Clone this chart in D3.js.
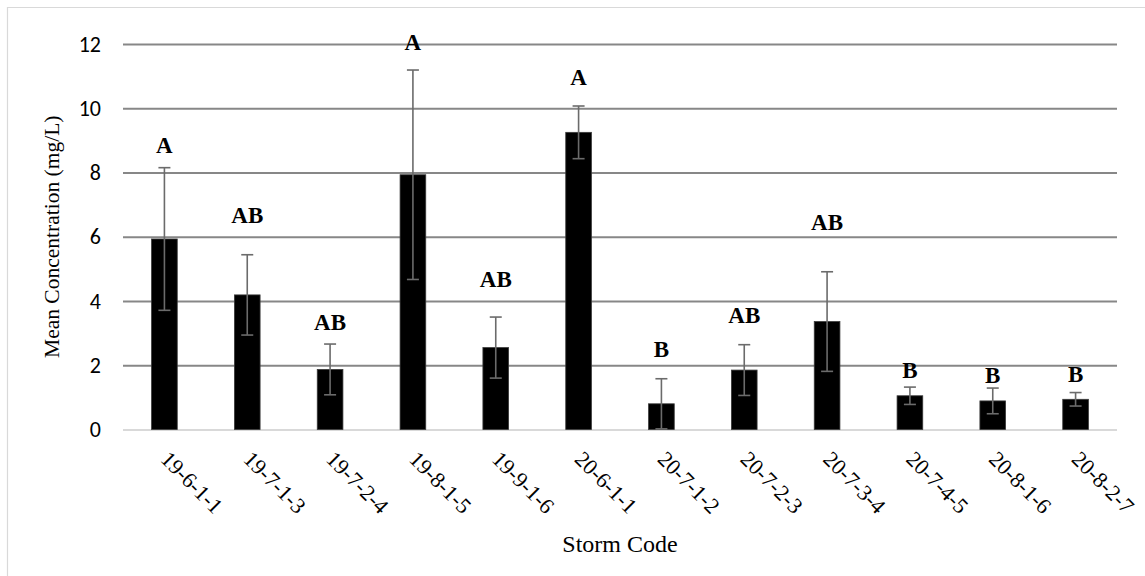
<!DOCTYPE html>
<html>
<head>
<meta charset="utf-8">
<script src="https://cdn.jsdelivr.net/npm/d3@7"></script>
<style>
  html, body { margin: 0; padding: 0; background: #fff; }
  svg { display: block; }
</style>
</head>
<body>
<svg id="chart" width="1145" height="576"></svg>
<script>
// Storm events and their mean concentrations (mg/L)
const stormCodes = ["19-6-1-1", "19-7-1-3", "19-7-2-4", "19-8-1-5", "19-9-1-6", "20-6-1-1",
                    "20-7-1-2", "20-7-2-3", "20-7-3-4", "20-7-4-5", "20-8-1-6", "20-8-2-7"];
const meanConc = [5.93, 4.19, 1.87, 7.93, 2.55, 9.25, 0.80, 1.85, 3.36, 1.05, 0.89, 0.94];
const errConc  = [2.22, 1.25, 0.79, 3.26, 0.95, 0.82, 0.78, 0.79, 1.55, 0.27, 0.40, 0.21];
// Significance groupings and the height (in mg/L) at which each letter sits
const groupLetters = ["A", "AB", "AB", "A", "AB", "A", "B", "AB", "AB", "B", "B", "B"];
const letterLevel  = [8.61, 6.44, 3.10, 11.80, 4.45, 10.71, 2.27, 3.33, 6.21, 1.61, 1.44, 1.49];
const yTicks = [0, 2, 4, 6, 8, 10, 12];

const svg = d3.select("#chart");
const serif = "'Times New Roman', 'Liberation Serif', serif";
const sans = "Calibri, Carlito, 'Open Sans', sans-serif";

const plot = { left: 123, right: 1117, top: 44, bottom: 429.5 };

const x = d3.scaleBand()
  .domain(stormCodes)
  .range([plot.left, plot.right])
  .paddingInner(0.69)
  .paddingOuter(0.345);

const y = d3.scaleLinear()
  .domain([0, 12])
  .range([plot.bottom, plot.top]);

// Chart frame
svg.append("line").attr("x1", 7).attr("x2", 1145).attr("y1", 7.5).attr("y2", 7.5)
  .attr("stroke", "#d9d9d9").attr("stroke-width", 1.2);
svg.append("line").attr("x1", 7.5).attr("x2", 7.5).attr("y1", 7).attr("y2", 576)
  .attr("stroke", "#d9d9d9").attr("stroke-width", 1.2);

// Horizontal gridlines
const yAxis = d3.axisLeft(y).tickValues(yTicks).tickSize(-(plot.right - plot.left)).tickPadding(22);
const gy = svg.append("g").attr("transform", `translate(${plot.left},0)`).call(yAxis);
gy.select(".domain").remove();
gy.selectAll(".tick line")
  .attr("stroke", d => d === 0 ? "#d9d9d9" : "#878787")
  .attr("stroke-width", 2);
gy.selectAll(".tick text")
  .attr("font-family", sans)
  .attr("font-size", 22)
  .attr("fill", "#000");

// Bars
svg.append("g").selectAll("rect")
  .data(stormCodes)
  .join("rect")
  .attr("x", d => x(d))
  .attr("width", x.bandwidth())
  .attr("y", (d, i) => y(meanConc[i]))
  .attr("height", (d, i) => y(0) - y(meanConc[i]))
  .attr("fill", "#000")
  .attr("stroke", "#3a3a3a")
  .attr("stroke-width", 0.8);

// Error bars
const eb = svg.append("g").attr("stroke", "#6b6b6b").attr("stroke-width", 1.6).attr("fill", "none");
stormCodes.forEach((d, i) => {
  const cx = x(d) + x.bandwidth() / 2;
  const hi = y(meanConc[i] + errConc[i]);
  const lo = y(Math.max(0, meanConc[i] - errConc[i]));
  eb.append("line").attr("x1", cx).attr("x2", cx).attr("y1", hi).attr("y2", lo);
  eb.append("line").attr("x1", cx - 6).attr("x2", cx + 6).attr("y1", hi).attr("y2", hi);
  eb.append("line").attr("x1", cx - 6).attr("x2", cx + 6).attr("y1", lo).attr("y2", lo);
});

// Group letters
svg.append("g").selectAll("text")
  .data(stormCodes)
  .join("text")
  .attr("x", d => x(d) + x.bandwidth() / 2)
  .attr("y", (d, i) => y(letterLevel[i]))
  .attr("text-anchor", "middle")
  .attr("font-family", serif)
  .attr("font-weight", "bold")
  .attr("font-size", 23)
  .text((d, i) => groupLetters[i]);

// Category labels, rotated
const xAxis = d3.axisBottom(x).tickSize(0).tickPadding(0);
const gx = svg.append("g").attr("transform", `translate(0,${plot.bottom})`).call(xAxis);
gx.select(".domain").remove();
gx.selectAll(".tick text")
  .attr("font-family", serif)
  .attr("font-size", 22)
  .attr("fill", "#000")
  .attr("text-anchor", "start")
  .attr("dy", null)
  .attr("y", 0)
  .attr("transform", "translate(-5,31) rotate(45)");

// Axis titles
svg.append("text")
  .attr("x", (plot.left + plot.right) / 2)
  .attr("y", 552)
  .attr("text-anchor", "middle")
  .attr("font-family", serif)
  .attr("font-size", 24)
  .text("Storm Code");

svg.append("text")
  .attr("transform", `translate(59,${(plot.top + plot.bottom) / 2}) rotate(-90)`)
  .attr("text-anchor", "middle")
  .attr("font-family", serif)
  .attr("font-size", 21.5)
  .text("Mean Concentration (mg/L)");
</script>
</body>
</html>
